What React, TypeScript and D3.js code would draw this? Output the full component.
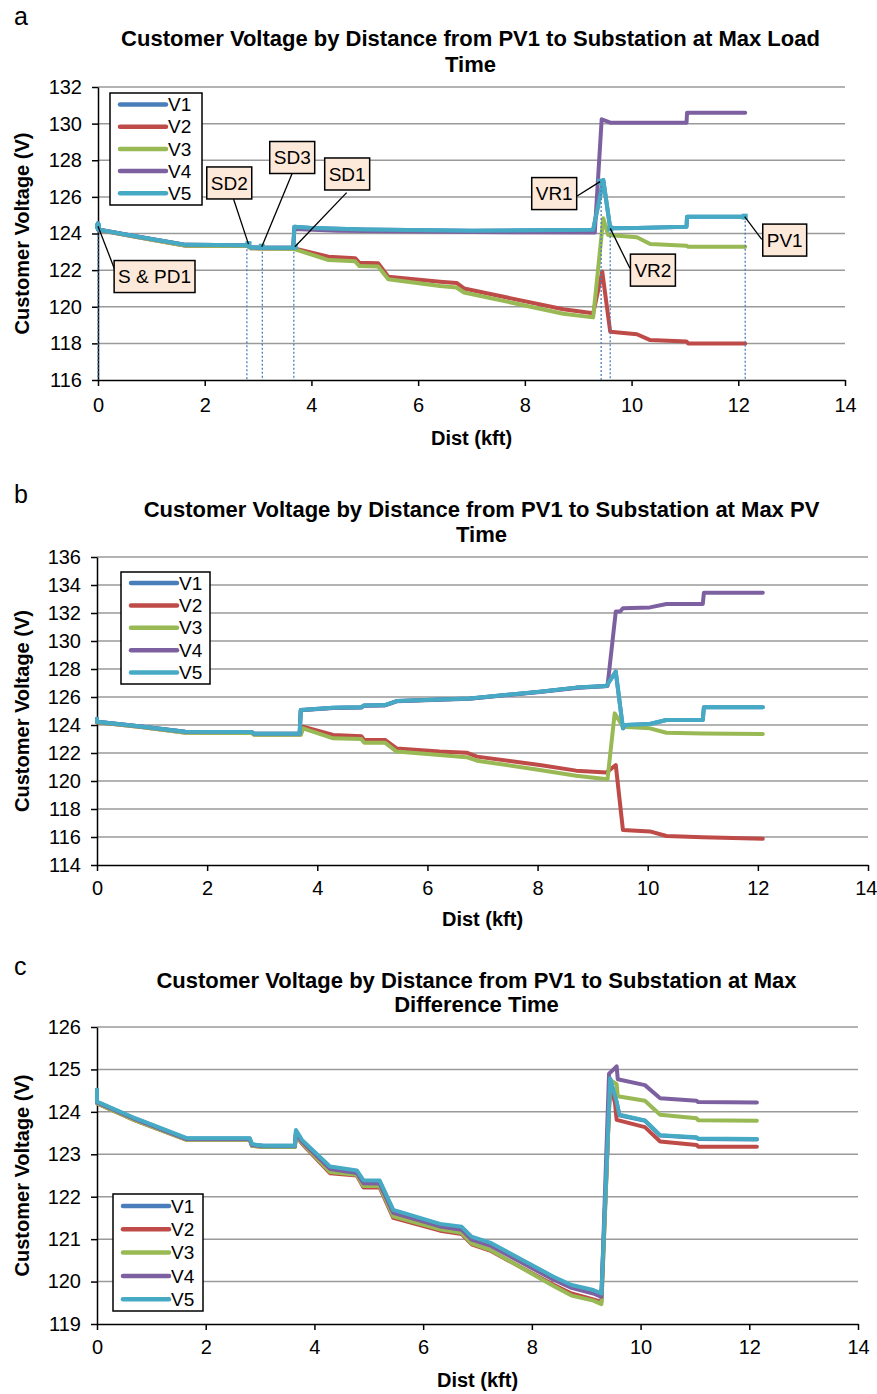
import { useEffect, useRef } from "react";
import * as d3 from "d3";

type Pt = [number, number];

// ---- panel a : max load time ----
const aV1: Pt[] = [[0,124.56],[0,124.22],[0.7,123.85],[1.65,123.38],[2.8,123.36],[2.86,123.24],[3.05,123.22],[3.66,123.22],[3.68,124.37],[4.0,124.3],[5.0,124.22],[7.0,124.15],[9.28,124.2],[9.47,126.92],[9.6,124.28],[10.1,124.3],[11.03,124.37],[11.04,124.92],[12.13,124.92]];
const aV2: Pt[] = [[0,124.5],[0,124.2],[0.7,123.82],[1.65,123.33],[2.8,123.32],[2.86,123.2],[3.05,123.18],[3.68,123.18],[4.32,122.73],[4.82,122.65],[4.9,122.4],[5.25,122.38],[5.44,121.64],[6.41,121.37],[6.72,121.3],[6.86,121.0],[8.72,119.86],[9.28,119.64],[9.45,121.92],[9.6,118.64],[10.1,118.5],[10.35,118.18],[11.03,118.1],[11.06,118.0],[12.13,118.0]];
const aV3: Pt[] = [[0,124.5],[0,124.2],[0.7,123.82],[1.65,123.33],[2.8,123.32],[2.86,123.2],[3.05,123.18],[3.68,123.15],[4.32,122.55],[4.82,122.48],[4.9,122.22],[5.25,122.2],[5.44,121.5],[6.41,121.13],[6.72,121.05],[6.86,120.78],[8.72,119.62],[9.28,119.42],[9.47,124.83],[9.56,123.92],[10.1,123.8],[10.35,123.43],[11.03,123.33],[11.06,123.28],[12.13,123.27]];
const aV4: Pt[] = [[0,124.56],[0,124.22],[0.7,123.85],[1.65,123.38],[2.8,123.36],[2.86,123.24],[3.05,123.22],[3.66,123.22],[3.68,124.25],[4.5,124.15],[7.0,124.08],[9.31,124.05],[9.44,130.24],[9.6,130.05],[11.03,130.05],[11.04,130.6],[12.13,130.6]];
const aV5: Pt[] = [[0,124.56],[0,124.22],[0.7,123.85],[1.65,123.38],[2.8,123.36],[2.86,123.24],[3.05,123.22],[3.66,123.22],[3.68,124.37],[4.0,124.3],[5.0,124.22],[7.0,124.15],[9.28,124.2],[9.47,126.92],[9.6,124.28],[10.1,124.3],[11.03,124.37],[11.04,124.92],[12.13,124.92]];

// ---- panel b : max PV time ----
const bV1: Pt[] = [[0,124.45],[0,124.24],[0.8,123.9],[1.6,123.52],[2.81,123.5],[2.85,123.38],[3.68,123.38],[3.7,125.07],[4.29,125.24],[4.8,125.27],[4.85,125.4],[5.23,125.42],[5.44,125.71],[6.22,125.83],[6.77,125.9],[8.04,126.38],[8.7,126.67],[9.25,126.79],[9.42,127.81],[9.55,123.76],[9.6,124.0],[10.04,124.07],[10.34,124.36],[11.0,124.36],[11.02,125.26],[12.09,125.26]];
const bV2: Pt[] = [[0,124.42],[0,124.2],[0.8,123.86],[1.6,123.47],[2.81,123.45],[2.85,123.33],[3.7,123.33],[3.74,123.88],[4.29,123.29],[4.8,123.2],[4.85,122.93],[5.23,122.93],[5.44,122.33],[6.22,122.1],[6.71,122.02],[6.9,121.74],[8.04,121.14],[8.7,120.74],[9.25,120.6],[9.42,121.14],[9.55,116.5],[10.04,116.4],[10.34,116.07],[11.0,115.98],[12.09,115.88]];
const bV3: Pt[] = [[0,124.42],[0,124.2],[0.8,123.86],[1.6,123.45],[2.81,123.43],[2.85,123.3],[3.7,123.3],[3.74,123.76],[4.29,123.05],[4.8,123.0],[4.85,122.74],[5.23,122.74],[5.44,122.1],[6.22,121.86],[6.71,121.7],[6.9,121.45],[8.04,120.79],[8.7,120.38],[9.27,120.12],[9.4,124.83],[9.55,123.88],[10.04,123.76],[10.34,123.45],[11.0,123.4],[12.09,123.36]];
const bV4: Pt[] = [[0,124.45],[0,124.24],[0.8,123.9],[1.6,123.52],[2.81,123.5],[2.85,123.38],[3.68,123.38],[3.7,125.05],[4.29,125.22],[4.8,125.25],[4.85,125.38],[5.23,125.4],[5.44,125.69],[6.22,125.81],[6.77,125.88],[8.04,126.36],[8.7,126.65],[9.27,126.78],[9.42,132.1],[9.5,132.1],[9.55,132.34],[10.04,132.4],[10.34,132.64],[11.0,132.64],[11.02,133.45],[12.09,133.45]];
const bV5: Pt[] = [[0,124.45],[0,124.24],[0.8,123.9],[1.6,123.52],[2.81,123.5],[2.85,123.38],[3.68,123.38],[3.7,125.07],[4.29,125.24],[4.8,125.27],[4.85,125.4],[5.23,125.42],[5.44,125.71],[6.22,125.83],[6.77,125.9],[8.04,126.38],[8.7,126.67],[9.25,126.79],[9.42,127.81],[9.55,123.76],[9.6,124.0],[10.04,124.07],[10.34,124.36],[11.0,124.36],[11.02,125.26],[12.09,125.26]];

// ---- panel c : max difference time ----
const cV1: Pt[] = [[0,124.52],[0,124.23],[0.7,123.84],[1.65,123.37],[2.81,123.37],[2.85,123.23],[3.06,123.2],[3.64,123.2],[3.66,123.55],[3.77,123.32],[4.29,122.69],[4.78,122.6],[4.9,122.37],[5.2,122.36],[5.45,121.67],[6.31,121.34],[6.71,121.27],[6.89,121.04],[7.23,120.9],[8.39,120.1],[8.73,119.9],[9.13,119.78],[9.28,119.7],[9.44,124.77],[9.56,124.22],[9.61,123.92],[10.08,123.79],[10.36,123.44],[11.03,123.39],[11.06,123.36],[12.14,123.35]];
const cV2: Pt[] = [[0,124.5],[0,124.2],[0.7,123.8],[1.65,123.34],[2.81,123.34],[2.85,123.2],[3.06,123.17],[3.64,123.17],[3.66,123.45],[3.77,123.25],[4.29,122.55],[4.78,122.5],[4.9,122.22],[5.2,122.22],[5.45,121.5],[6.31,121.2],[6.71,121.12],[6.89,120.88],[7.23,120.73],[8.39,119.93],[8.73,119.72],[9.13,119.58],[9.28,119.52],[9.44,124.7],[9.53,124.2],[9.56,123.81],[10.08,123.64],[10.36,123.3],[11.03,123.22],[11.06,123.18],[12.14,123.18]];
const cV3: Pt[] = [[0,124.5],[0,124.2],[0.7,123.8],[1.65,123.34],[2.81,123.34],[2.85,123.2],[3.06,123.17],[3.64,123.17],[3.66,123.47],[3.77,123.27],[4.29,122.58],[4.78,122.52],[4.9,122.25],[5.2,122.25],[5.45,121.54],[6.31,121.23],[6.71,121.15],[6.89,120.9],[7.23,120.75],[8.39,119.9],[8.73,119.67],[9.13,119.55],[9.28,119.47],[9.44,124.75],[9.56,124.65],[9.58,124.37],[10.08,124.26],[10.36,123.93],[11.03,123.85],[11.06,123.8],[12.14,123.79]];
const cV4: Pt[] = [[0,124.52],[0,124.22],[0.7,123.83],[1.65,123.36],[2.81,123.36],[2.85,123.22],[3.06,123.19],[3.64,123.19],[3.66,123.5],[3.77,123.3],[4.29,122.65],[4.78,122.56],[4.9,122.32],[5.2,122.31],[5.45,121.62],[6.31,121.3],[6.71,121.22],[6.89,120.99],[7.23,120.85],[8.39,120.05],[8.73,119.85],[9.13,119.72],[9.28,119.64],[9.42,124.9],[9.56,125.07],[9.58,124.77],[10.08,124.63],[10.36,124.32],[11.03,124.26],[11.06,124.23],[12.14,124.22]];
const cV5: Pt[] = [[0,124.52],[0,124.24],[0.7,123.85],[1.65,123.38],[2.81,123.38],[2.85,123.24],[3.06,123.2],[3.64,123.2],[3.66,123.57],[3.77,123.34],[4.29,122.71],[4.78,122.62],[4.9,122.39],[5.2,122.38],[5.45,121.69],[6.31,121.36],[6.71,121.29],[6.89,121.06],[7.23,120.92],[8.39,120.12],[8.73,119.92],[9.13,119.8],[9.28,119.72],[9.44,124.79],[9.56,124.24],[9.61,123.93],[10.08,123.8],[10.36,123.45],[11.03,123.4],[11.06,123.37],[12.14,123.36]];

const seriesNames = ["V1", "V2", "V3", "V4", "V5"];
const seriesColors = ["#4a7ebb", "#be4b48", "#98b954", "#7d60a0", "#46aac5"];

const xTicks = [0, 2, 4, 6, 8, 10, 12, 14];
const aYTicks = [116, 118, 120, 122, 124, 126, 128, 130, 132];
const bYTicks = [114, 116, 118, 120, 122, 124, 126, 128, 130, 132, 134, 136];
const cYTicks = [119, 120, 121, 122, 123, 124, 125, 126];

// callouts on panel a: anchor (x, v), box centre (bx, bv), leader end on box (lx, lv)
const aNotes = [
  { label: "S & PD1", x: 0, v: 124.4, bx: 1.06, bv: 121.65, lx: 0.34, lv: 121.83 },
  { label: "SD2", x: 2.82, v: 123.42, bx: 2.46, bv: 126.76, lx: 2.54, lv: 125.88 },
  { label: "SD3", x: 3.07, v: 123.28, bx: 3.64, bv: 128.15, lx: 3.64, lv: 127.29 },
  { label: "SD1", x: 3.69, v: 123.28, bx: 4.67, bv: 127.25, lx: 4.66, lv: 126.23 },
  { label: "VR1", x: 9.41, v: 126.83, bx: 8.55, bv: 126.18, lx: 8.98, lv: 126.05 },
  { label: "VR2", x: 9.6, v: 124.28, bx: 10.4, bv: 122.0, lx: 9.97, lv: 122.1 },
  { label: "PV1", x: 12.12, v: 124.92, bx: 12.87, bv: 123.64, lx: 12.44, lv: 123.68 },
];
const aDrops = [
  { x: 0, v: 124.56 }, { x: 2.79, v: 123.36 }, { x: 3.08, v: 123.22 }, { x: 3.67, v: 123.22 },
  { x: 9.43, v: 126.6 }, { x: 9.6, v: 124.28 }, { x: 12.13, v: 124.92 },
];

const FONT = "'Liberation Sans', Arial, Helvetica, sans-serif";

const panels = [
  {
    letter: "a", letterY: 25,
    title: ["Customer Voltage by Distance from PV1 to Substation at Max Load", "Time"],
    titleY: [46, 72],
    left: 98, right: 845, top: 87, bottom: 380,
    yTicks: aYTicks, xPad: 12, xLabelY: 445,
    series: [aV1, aV2, aV3, aV4, aV5],
    legend: { x: 110, y: 93, w: 92, h: 112, row0: 104.5, step: 22.2 },
    notes: true,
  },
  {
    letter: "b", letterY: 503,
    title: ["Customer Voltage by Distance from PV1 to Substation at Max PV", "Time"],
    titleY: [517, 542],
    left: 97, right: 868, top: 557, bottom: 865,
    yTicks: bYTicks, xPad: 10, xLabelY: 926,
    series: [bV1, bV2, bV3, bV4, bV5],
    legend: { x: 121, y: 572, w: 89, h: 112, row0: 583, step: 22.4 },
    notes: false,
  },
  {
    letter: "c", letterY: 975,
    title: ["Customer Voltage by Distance from PV1 to Substation at Max", "Difference Time"],
    titleY: [988, 1012],
    left: 97, right: 858, top: 1027, bottom: 1324,
    yTicks: cYTicks, xPad: 10, xLabelY: 1387,
    series: [cV1, cV2, cV3, cV4, cV5],
    legend: { x: 113, y: 1194, w: 90, h: 117, row0: 1206, step: 23.3 },
    notes: false,
  },
];

export default function App() {
  const svgRef = useRef<SVGSVGElement>(null);

  useEffect(() => {
    const svg = d3.select(svgRef.current);
    svg.selectAll("*").remove();

    panels.forEach(p => {
      const g = svg.append("g");
      const x = d3.scaleLinear().domain([0, 14]).range([p.left, p.right]);
      const y = d3.scaleLinear()
        .domain([p.yTicks[0], p.yTicks[p.yTicks.length - 1]])
        .range([p.bottom, p.top]);
      const cx = (p.left + p.right) / 2;

      // panel letter + title
      g.append("text").attr("x", 14).attr("y", p.letterY)
        .attr("font-size", 25).attr("font-family", FONT).text(p.letter);
      g.append("g").selectAll("text").data(p.title).join("text")
        .attr("x", cx - 1).attr("y", (_, i) => p.titleY[i])
        .attr("text-anchor", "middle").attr("font-size", 22).attr("font-weight", "bold")
        .attr("font-family", FONT).text(d => d);

      // gridlines
      g.append("g").selectAll("line").data(p.yTicks.slice(1)).join("line")
        .attr("x1", p.left).attr("x2", p.right)
        .attr("y1", d => y(d)).attr("y2", d => y(d))
        .attr("stroke", "#9a9a9a").attr("stroke-width", 1.5);

      // axes
      const styleAxis = (ax: d3.Selection<SVGGElement, unknown, null, undefined>) => {
        ax.attr("font-family", FONT).attr("font-size", 20);
        ax.select(".domain").attr("stroke", "#000").attr("stroke-width", 1.5);
        ax.selectAll(".tick line").attr("stroke", "#000").attr("stroke-width", 1.5);
        ax.selectAll(".tick text").attr("fill", "#000");
      };
      const xAxis = g.append("g").attr("transform", `translate(0,${p.bottom})`)
        .call(d3.axisBottom(x).tickValues(xTicks).tickSize(6).tickSizeOuter(0).tickPadding(p.xPad))
        .call(styleAxis);
      // keep the last label inside the page
      xAxis.selectAll<SVGTextElement, number>(".tick text")
        .filter(d => x(d) + 12 > 877)
        .attr("text-anchor", "end").attr("x", 877 - x(14));
      g.append("g").attr("transform", `translate(${p.left},0)`)
        .call(d3.axisLeft(y).tickValues(p.yTicks).tickFormat(d3.format("d")).tickSize(6).tickSizeOuter(0).tickPadding(10))
        .call(styleAxis);

      // axis titles
      g.append("text").attr("x", cx).attr("y", p.xLabelY)
        .attr("text-anchor", "middle").attr("font-size", 20).attr("font-weight", "bold")
        .attr("font-family", FONT).text("Dist (kft)");
      g.append("text")
        .attr("transform", `translate(29,${(p.top + p.bottom) / 2}) rotate(-90)`)
        .attr("text-anchor", "middle").attr("font-size", 20).attr("font-weight", "bold")
        .attr("font-family", FONT).text("Customer Voltage (V)");

      // series
      const line = d3.line<Pt>().x(d => x(d[0])).y(d => y(d[1]));
      g.append("g").selectAll("path").data(p.series).join("path")
        .attr("d", d => line(d))
        .attr("fill", "none")
        .attr("stroke", (_, i) => seriesColors[i])
        .attr("stroke-width", 4)
        .attr("stroke-linejoin", "round")
        .attr("stroke-linecap", "round");

      if (p.notes) {
        g.append("g").selectAll("line").data(aDrops).join("line")
          .attr("x1", d => x(d.x)).attr("x2", d => x(d.x))
          .attr("y1", d => y(d.v)).attr("y2", p.bottom)
          .attr("stroke", "#4a7ebb").attr("stroke-width", 1.3)
          .attr("stroke-dasharray", "2,2");
        g.append("g").selectAll("rect").data(aNotes).join("rect")
          .attr("x", d => x(d.x) - 3).attr("y", d => y(d.v) - 3)
          .attr("width", 6).attr("height", 6).attr("fill", seriesColors[4]);
        g.append("g").selectAll("line").data(aNotes).join("line")
          .attr("x1", d => x(d.x)).attr("y1", d => y(d.v))
          .attr("x2", d => x(d.lx)).attr("y2", d => y(d.lv))
          .attr("stroke", "#000").attr("stroke-width", 1.3);
        const boxes = g.append("g").selectAll("g").data(aNotes).join("g");
        const rects = boxes.append("rect")
          .attr("fill", "#fde9d9").attr("stroke", "#000").attr("stroke-width", 1.5);
        const texts = boxes.append("text")
          .attr("x", d => x(d.bx)).attr("y", d => y(d.bv))
          .attr("dy", "0.35em").attr("text-anchor", "middle")
          .attr("font-size", 19).attr("font-family", FONT).text(d => d.label);
        texts.each(function (d, i) {
          const w = (this as SVGTextElement).getComputedTextLength() + 8;
          d3.select(rects.nodes()[i])
            .attr("x", x(d.bx) - w / 2).attr("y", y(d.bv) - 16)
            .attr("width", w).attr("height", 32);
        });
      }

      // legend
      const L = p.legend;
      const lg = g.append("g");
      lg.append("rect").attr("x", L.x).attr("y", L.y).attr("width", L.w).attr("height", L.h)
        .attr("fill", "#fff").attr("stroke", "#000").attr("stroke-width", 1.5);
      const rows = lg.selectAll("g").data(seriesNames).join("g")
        .attr("transform", (_, i) => `translate(${L.x},${L.row0 + i * L.step})`);
      rows.append("line").attr("x1", 10).attr("x2", 56).attr("y1", 0).attr("y2", 0)
        .attr("stroke", (_, i) => seriesColors[i]).attr("stroke-width", 4.5)
        .attr("stroke-linecap", "round");
      rows.append("text").attr("x", 58).attr("dy", "0.35em")
        .attr("font-size", 19).attr("font-family", FONT).text(d => d);
    });
  }, []);

  return (
    <div style={{ position: "absolute", left: 0, top: 0 }}>
      <svg ref={svgRef} width={877} height={1394} style={{ display: "block", background: "#fff" }} />
    </div>
  );
}
